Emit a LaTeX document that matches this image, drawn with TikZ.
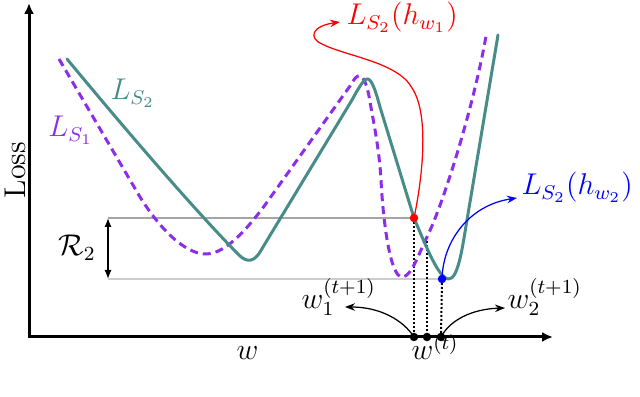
\documentclass[tikz,border=0pt]{standalone}
\usetikzlibrary{arrows.meta}
\definecolor{lteal}{RGB}{72,140,137}
\definecolor{lpurp}{RGB}{140,45,235}
\definecolor{gtopc}{RGB}{165,165,165}
\definecolor{gbotc}{RGB}{205,205,205}
\begin{document}
\begin{tikzpicture}[x=0.4pt,y=-0.4pt,font=\large,
  curveA/.style={lteal,line width=1.2pt,line join=round,line cap=round},
  curveB/.style={lpurp,line width=1.2pt,dash pattern=on 3.2pt off 2pt},
  axisline/.style={line width=1.2pt,line join=miter,{Latex[length=4.4pt,width=4pt]}-{Latex[length=4.4pt,width=4pt]}},
  dotnode/.style={circle,fill,inner sep=0pt,minimum size=3.4pt},
  guide/.style={line width=0.6pt},
  dropline/.style={line width=0.8pt,dash pattern=on 0.8pt off 0.8pt},
  pointer/.style={line width=0.5pt,-{Stealth[length=4pt,width=3pt]}},
  lbl/.style={inner sep=0pt,anchor=base west}]
\useasboundingbox (0,0) rectangle (640,397);
% axes
\coordinate (ytip) at (29,3);
\coordinate (xtip) at (553,337);
\draw[axisline] (ytip) |- (xtip);
\node[rotate=90,anchor=base,inner sep=0pt] (loss) at (25,170) {Loss};
\node[lbl] (wlab) at (236,360) {$w$};
% key points
\coordinate (rd) at (414,218);
\coordinate (bd) at (442,279);
\coordinate (pm) at (427,237);
\coordinate (d1) at (414,337);
\coordinate (d2) at (427,337);
\coordinate (d3) at (441,337);
\coordinate (gtop) at (108,218);
\coordinate (gbot) at (108,279);
% guide lines
\draw[guide,gtopc] (gtop) -- (rd);
\draw[guide,gbotc] (gbot) -- (bd);
\draw[line width=0.5pt,{Latex[length=3.6pt,width=2.8pt]}-{Latex[length=3.6pt,width=2.8pt]}] (gtop) -- (gbot);
\node[lbl] (r2) at (58,256) {$\mathcal{R}_2$};
% dotted drops
\draw[dropline] (rd) -- (d1);
\draw[dropline] (pm) -- (d2);
\draw[dropline] (bd) -- (d3);
% curves
\draw[curveB] (59,59) -- (140,197) .. controls (165,237) and (190,255) .. (207,254)
  .. controls (225,253) and (245,232) .. (265,205) -- (350,86)
  .. controls (354,79) and (357,75) .. (360,76)
  .. controls (364,77) and (367,86) .. (369,96)
  .. controls (372,115) and (379,145) .. (381,180)
  .. controls (383,220) and (390,277) .. (402,277)
  .. controls (412,277) and (420,250) .. (pm)
  .. controls (445,200) and (475,100) .. (486,36);
\draw[curveA] (67,59) .. controls (120,123) and (190,205) .. (236,252)
  .. controls (244,261) and (252,265) .. (260,252) -- (352,100)
  .. controls (358,89) and (364,78) .. (368,79)
  .. controls (372,80) and (376,92) .. (380,107) -- (rd)
  .. controls (426,246) and (438,277) .. (448,279)
  .. controls (458,280) and (462,250) .. (467,220) -- (498,35);
\node[lbl,text=lteal] (ls2) at (110,100) {$L_{S_2}$};
\node[lbl,text=lpurp] (ls1) at (48,137) {$L_{S_1}$};
% red pointer
\coordinate (rtip) at (340,22);
\draw[red,pointer] (rd) .. controls (422,180) and (430,115) .. (412,88) .. controls (398,62) and (345,56) .. (322,44) .. controls (308,38) and (312,26) .. (rtip);
\node[lbl,text=red] (lh1) at (346,25) {$L_{S_2}(h_{w_1})$};
% blue pointer
\coordinate (btip) at (517,198);
\draw[blue,pointer] (bd) .. controls (443,240) and (470,205) .. (btip);
\node[lbl,text=blue] (lh2) at (521,195) {$L_{S_2}(h_{w_2})$};
% black pointers
\coordinate (w1tip) at (345,307);
\coordinate (w2tip) at (505,308);
\draw[pointer] (d1) .. controls (403,320) and (380,307) .. (w1tip);
\draw[pointer] (d3) .. controls (450,320) and (472,309) .. (w2tip);
\node[lbl] (w1) at (301,309) {$w_1^{(t+1)}$};
\node[lbl] (w2) at (507,309) {$w_2^{(t+1)}$};
\node[lbl] (wt) at (411,360) {$w^{(t)}$};
% dots
\node[dotnode,red] (rdot) at (rd) {};
\node[dotnode,blue] (bdot) at (bd) {};
\node[dotnode] (k1) at (d1) {};
\node[dotnode] (k2) at (d2) {};
\node[dotnode] (k3) at (d3) {};
\end{tikzpicture}
\end{document}
